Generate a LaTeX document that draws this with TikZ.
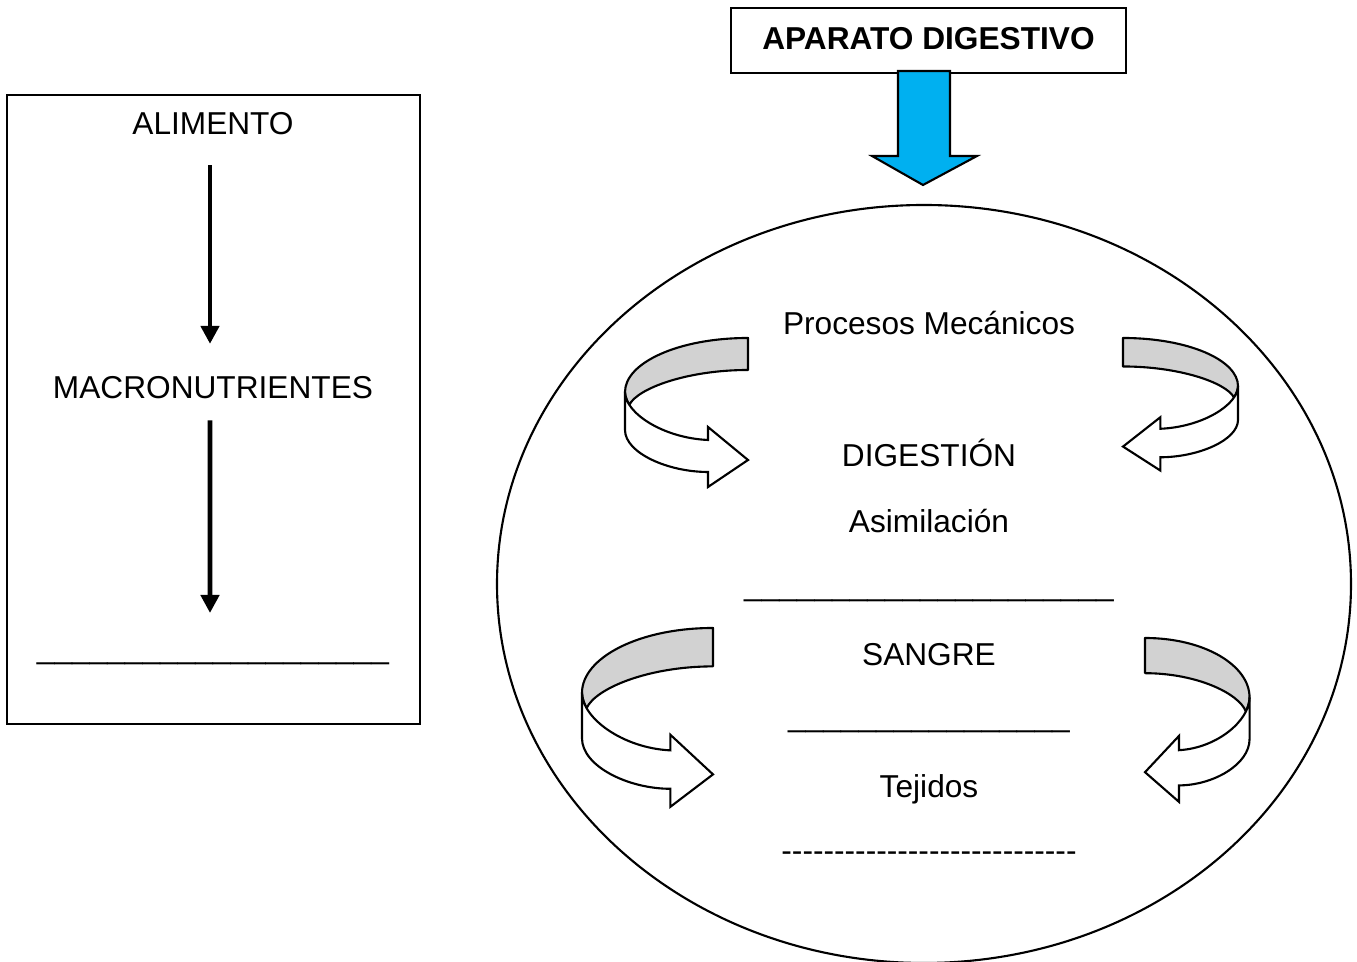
\documentclass[tikz,border=0pt]{standalone}
\usepackage{fontspec}
\setmainfont{Liberation Sans}
\usepackage{tikz}
\usetikzlibrary{arrows.meta}

\definecolor{azul}{HTML}{00B0F0}

% flecha curva de cinta (gris detras, blanca delante)
\newcommand{\cinta}[3]{%
\begin{scope}[shift={(#1)}, xscale=#2, yscale=#3]
\filldraw[fill=gray!35, line width=0.6pt, line join=round] (0,0) .. controls (-70,0) and (-123,25) .. (-123,54)
  .. controls (-123,58) and (-121,63) .. (-118.7,66.8)
  .. controls (-110,50) and (-60,32) .. (0,32) -- cycle;
\filldraw[fill=white, line width=0.6pt, line join=miter] (-123,54) -- (-123,92) .. controls (-123,115) and (-80,134) .. (-40,134)
  -- (-40,149) -- (0,122) -- (-40,89) -- (-40,102)
  .. controls (-85,100) and (-123,75) .. (-123,54) -- cycle;
\end{scope}}

\begin{document}
\begin{tikzpicture}[x=0.01cm, y=-0.01cm,
  every node/.style={inner sep=0pt, outer sep=0pt, font=\fontsize{9}{11}\selectfont},
  texto/.style={anchor=base},
  flecha/.style={line width=1.4pt, -{Triangle[length=0.18cm, width=0.18cm]}}]
\useasboundingbox (0,0) rectangle (1357,962);

% caja izquierda
\draw[line width=0.6pt] (7,95) rectangle (420,724);
\node[texto] (alimento) at (213,135) {ALIMENTO};
\node[texto] (macro) at (213,399) {MACRONUTRIENTES};
\node[texto] (linea1) at (213,659) {\_\_\_\_\_\_\_\_\_\_\_\_\_\_\_\_\_\_\_\_};
\coordinate (fin1) at (210,613);
\draw[flecha, shorten <=0.30cm, shorten >=0.33cm] ([xshift=-0.03cm]alimento.south) -- ([xshift=-0.03cm]macro.north);
\draw[flecha, shorten <=0.21cm] ([xshift=-0.03cm]macro.south) -- (fin1);

% aparato digestivo
\node[draw, line width=0.6pt, minimum width=3.95cm, minimum height=0.65cm, text height=0.227cm, text depth=0.05cm, font=\fontsize{9}{11}\selectfont\bfseries] (titulo) at (928.5,40.5) {APARATO DIGESTIVO};
\filldraw[fill=azul, line width=0.6pt] (898,71) -- (950,71) -- (950,156) -- (977,156) -- (923,185) -- (872,156) -- (898,156) -- cycle;

\draw[line width=0.6pt] (924,584) ellipse [x radius=427, y radius=379];

\node[texto] (procesos) at (929,335) {Procesos Mecánicos};
\node[texto] (digestion) at (929,467) {DIGESTIÓN};
\node[texto] (asimilacion) at (929,533) {Asimilación};
\node[texto] (linea2) at (929,596) {\_\_\_\_\_\_\_\_\_\_\_\_\_\_\_\_\_\_\_\_\_};
\node[texto] (sangre) at (929,666) {SANGRE};
\node[texto] (linea3) at (929,727) {\_\_\_\_\_\_\_\_\_\_\_\_\_\_\_\_};
\node[texto] (tejidos) at (929,798) {Tejidos};
\node[texto] (guiones) at (929,862) {-{}-{}-{}-{}-{}-{}-{}-{}-{}-{}-{}-{}-{}-{}-{}-{}-{}-{}-{}-{}-{}-{}-{}-{}-{}-{}-{}-{}};

\cinta{748,338}{1}{1}
\cinta{1123,338}{-0.935}{0.89}
\cinta{713,628}{1.065}{1.2}
\cinta{1145,638}{-0.85}{1.1}
\end{tikzpicture}
\end{document}
